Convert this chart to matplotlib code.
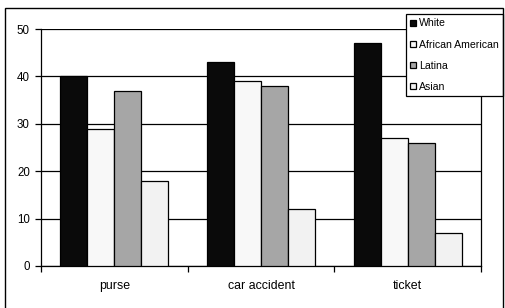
import matplotlib.pyplot as plt
from matplotlib.patches import Rectangle
import numpy as np

plt.rcParams['font.family'] = ['Liberation Sans', 'DejaVu Sans']

categorias = ["purse", "car accident", "ticket"]
grupos = ["White", "African American", "Latina", "Asian"]
white = [40, 43, 47]
african_american = [29, 39, 27]
latina = [37, 38, 26]
asian = [18, 12, 7]
cores = ["#0a0a0a", "#f8f8f8", "#a6a6a6", "#f2f2f2"]

fig = plt.figure(figsize=(5.05, 3.08), dpi=100)
ax = fig.add_axes([41 / 505, 1 - 266 / 308, 440 / 505, 237 / 308])

x = np.arange(len(categorias))
largura = 0.184
series = [white, african_american, latina, asian]
for i, (valores, nome, cor) in enumerate(zip(series, grupos, cores)):
    ax.bar(x + (i - 1.5) * largura, valores, largura, color=cor,
           edgecolor="black", linewidth=0.9, label=nome, zorder=3)

ax.set_ylim(0, 50)
ax.set_xlim(-0.5, 2.5)
ax.set_yticks([0, 10, 20, 30, 40, 50])
ax.yaxis.grid(True, color="black", linewidth=0.9, zorder=0)
ax.tick_params(axis="y", direction="out", length=4, width=0.9, labelsize=8.3, pad=4)

# rótulos no centro, ticks nos limites das categorias
ax.set_xticks(x)
ax.set_xticklabels(categorias, fontsize=8.9)
ax.tick_params(axis="x", which="major", length=0, pad=10)
ax.set_xticks([-0.5, 0.5, 1.5, 2.5], minor=True)
ax.tick_params(axis="x", which="minor", direction="out", length=4, width=0.9)

ax.spines["top"].set_visible(False)
for lado in ["left", "bottom", "right"]:
    ax.spines[lado].set_color("black")
    ax.spines[lado].set_linewidth(0.9)

leg = ax.legend(loc="upper left", bbox_to_anchor=(406 / 505, 1 - 14 / 308),
                bbox_transform=fig.transFigure, fontsize=7.6, frameon=True,
                fancybox=False, framealpha=1, handlelength=0.5,
                handleheight=0.5, handletextpad=0.3, labelspacing=1.05,
                borderpad=0.42, borderaxespad=0)
leg.get_frame().set_edgecolor("black")
leg.get_frame().set_linewidth(0.9)
leg.set_zorder(10)

# moldura externa do gráfico
moldura = Rectangle((5 / 505, -0.1), 498 / 505, 1.1 - 8 / 308,
                    transform=fig.transFigure, fill=False,
                    edgecolor="black", linewidth=1.0, clip_on=False)
fig.patches.append(moldura)

fig.savefig("out.png", dpi=100)
